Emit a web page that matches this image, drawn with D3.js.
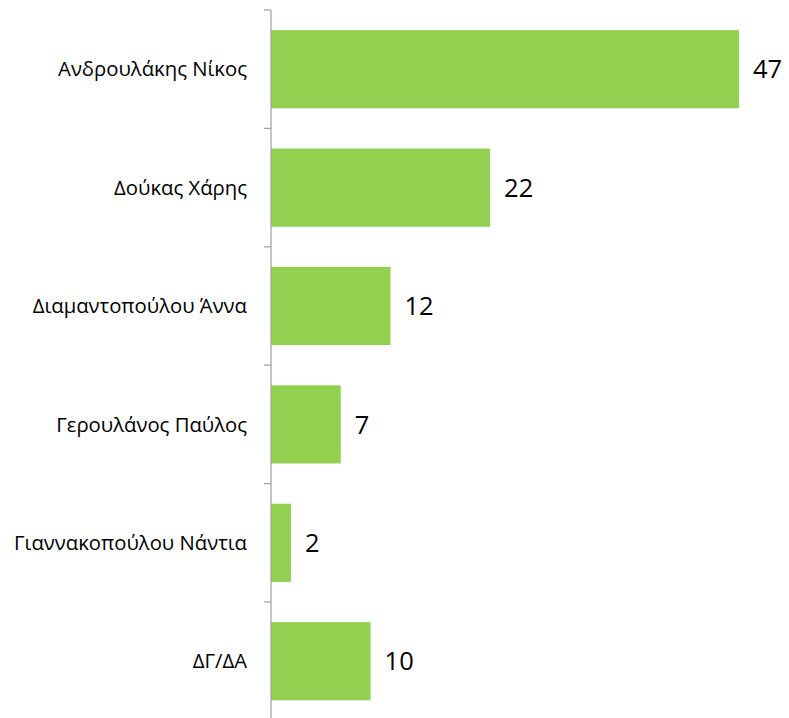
<!DOCTYPE html>
<html>
<head>
<meta charset="utf-8">
<script src="https://cdn.jsdelivr.net/npm/d3@7"></script>
<style>
  body { margin: 0; background: #fff; }
  text { font-family: "Open Sans", sans-serif; }
</style>
</head>
<body>
<svg id="chart"></svg>
<script>
var names = ["Ανδρουλάκης Νίκος", "Δούκας Χάρης", "Διαμαντοπούλου Άννα",
             "Γερουλάνος Παύλος", "Γιαννακοπούλου Νάντια", "ΔΓ/ΔΑ"];
var values = [47, 22, 12, 7, 2, 10];

var w = 789, h = 718;
var axisX = 271, topY = 10, step = 118.4;

var svg = d3.select("#chart")
    .attr("width", w)
    .attr("height", h);

var x = d3.scaleLinear()
    .domain([0, 47])
    .range([axisX, 739]);

var y = d3.scaleBand()
    .domain(names)
    .range([topY, topY + step*names.length])
    .paddingInner(0.34)
    .paddingOuter(0.17);

// bars
svg.selectAll("rect.bar")
    .data(values)
    .enter().append("rect")
    .attr("class", "bar")
    .attr("x", x(0))
    .attr("y", (d, i) => y(names[i]))
    .attr("width", d => x(d) - x(0))
    .attr("height", y.bandwidth())
    .attr("fill", "#92D050");

// axis line + ticks at category boundaries
svg.append("line")
    .attr("x1", axisX).attr("x2", axisX)
    .attr("y1", topY).attr("y2", h)
    .attr("stroke", "#A6A6A6").attr("stroke-width", 1.3);
svg.selectAll("line.tick")
    .data(d3.range(names.length + 1))
    .enter().append("line")
    .attr("class", "tick")
    .attr("x1", axisX - 7).attr("x2", axisX)
    .attr("y1", i => topY + i*y.step()).attr("y2", i => topY + i*y.step())
    .attr("stroke", "#A6A6A6").attr("stroke-width", 1.3);

// category labels
svg.selectAll("text.cat")
    .data(names)
    .enter().append("text")
    .attr("class", "cat")
    .attr("x", 247)
    .attr("y", d => y(d) + y.bandwidth()/2)
    .attr("dy", "0.35em")
    .attr("text-anchor", "end")
    .attr("font-size", 20.3)
    .attr("fill", "#000")
    .text(d => d);

// value labels
svg.selectAll("text.val")
    .data(values)
    .enter().append("text")
    .attr("class", "val")
    .attr("x", d => x(d) + 14)
    .attr("y", (d, i) => y(names[i]) + y.bandwidth()/2)
    .attr("dy", "0.36em")
    .attr("font-size", 25.5)
    .attr("fill", "#000")
    .text(d => d);
</script>
</body>
</html>
